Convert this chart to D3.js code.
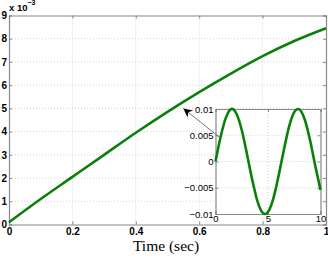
<!DOCTYPE html>
<html lang="en">
<head>
    <meta charset="UTF-8">
    <title>Time response with inset</title>
    <script src="https://cdn.jsdelivr.net/npm/d3@7/dist/d3.min.js"></script>
    <style>
        body { margin: 0; background: #fff; }
        .tick text { font-family: "Liberation Sans", Arial, sans-serif; }
    </style>
</head>
<body>
    <script>
        var w = 328;
        var h = 258;

        // main series (values in units of 1e-3)
        var mainTime = [0, 0.1, 0.2, 0.3, 0.4, 0.5, 0.6, 0.7, 0.8, 0.9, 1.0];
        var mainValue = [0.1, 1.1, 2.05, 3.0, 3.95, 4.85, 5.7, 6.5, 7.25, 7.9, 8.45];
        var mainXTicks = [0, 0.2, 0.4, 0.6, 0.8, 1];
        var mainYTicks = [0, 1, 2, 3, 4, 5, 6, 7, 8, 9];

        // inset series
        var insetTime = [0, 0.5, 1, 1.5, 2, 2.5, 3, 3.5, 4, 4.5, 5, 5.5, 6, 6.5, 7, 7.5, 8, 8.5, 9, 9.5, 10];
        var insetValue = [0, 0.0048, 0.0084, 0.01, 0.0091, 0.006, 0.0014, -0.0035, -0.0076, -0.0098,
                          -0.0096, -0.0071, -0.0028, 0.0021, 0.0066, 0.0094, 0.0099, 0.0080, 0.0041, -0.0008, -0.0054];
        var insetXTicks = [0, 5, 10];
        var insetYTicks = [-0.01, -0.005, 0, 0.005, 0.01];

        var svg = d3.select('body').append('svg')
                    .attr('width', w)
                    .attr('height', h);

        // draws a boxed MATLAB-like axes with dotted grid and inward ticks
        function drawAxes(g, x, y, xt, yt, xFmt, yFmt, opts) {
            var x0 = x.range()[0], x1 = x.range()[1];
            var y0 = y.range()[0], y1 = y.range()[1];

            g.append('rect')
                .attr('x', x0).attr('y', y1)
                .attr('width', x1 - x0).attr('height', y0 - y1)
                .attr('fill', '#fff');

            // grid
            g.selectAll('.vgrid').data(xt.slice(1, -1)).enter().append('line')
                .attr('x1', function(d) { return x(d); })
                .attr('x2', function(d) { return x(d); })
                .attr('y1', y0).attr('y2', y1)
                .attr('stroke', '#c8c8c8').attr('stroke-width', 0.8)
                .attr('stroke-dasharray', '1,2');
            g.selectAll('.hgrid').data(yt.slice(1, -1)).enter().append('line')
                .attr('y1', function(d) { return y(d); })
                .attr('y2', function(d) { return y(d); })
                .attr('x1', x0).attr('x2', x1)
                .attr('stroke', '#c8c8c8').attr('stroke-width', 0.8)
                .attr('stroke-dasharray', '1,2');

            var ax = g.append('g');
            var bottom = d3.axisBottom(x).tickValues(xt).tickSize(-3).tickPadding(opts.xPad).tickFormat(xFmt);
            var left = d3.axisLeft(y).tickValues(yt).tickSize(-3).tickPadding(opts.yPad).tickFormat(yFmt);
            var top = d3.axisTop(x).tickValues(xt).tickSize(-3).tickFormat('');
            var right = d3.axisRight(y).tickValues(yt).tickSize(-3).tickFormat('');

            ax.append('g').attr('transform', 'translate(0,' + y0 + ')').call(bottom);
            ax.append('g').attr('transform', 'translate(' + x0 + ',0)').call(left);
            ax.append('g').attr('transform', 'translate(0,' + y1 + ')').call(top);
            ax.append('g').attr('transform', 'translate(' + x1 + ',0)').call(right);

            ax.selectAll('.domain').attr('stroke', '#888').attr('stroke-width', 1.2);
            ax.selectAll('.tick line').attr('stroke', '#888');
            ax.selectAll('.tick text')
                .attr('fill', '#000')
                .style('font-size', opts.fontSize + 'px')
                .style('font-weight', opts.weight);
        }

        // main axes
        var xScale = d3.scaleLinear().domain([0, 1]).range([9, 326]);
        var yScale = d3.scaleLinear().domain([0, 9]).range([224.5, 15.5]);

        var main = svg.append('g');
        drawAxes(main, xScale, yScale, mainXTicks, mainYTicks,
                 d3.format('~g'), d3.format('d'),
                 { xPad: 3, yPad: 2, fontSize: 10, weight: 'bold' });

        var line = d3.line()
                     .x(function(d, i) { return xScale(mainTime[i]); })
                     .y(function(d) { return yScale(d); })
                     .curve(d3.curveMonotoneX);

        main.append('path')
            .datum(mainValue)
            .attr('d', line)
            .attr('fill', 'none')
            .attr('stroke', '#0a800a')
            .attr('stroke-width', 2.6);

        // exponent label
        var expo = svg.append('text')
            .attr('x', 9).attr('y', 11)
            .attr('font-family', 'Liberation Sans, Arial, sans-serif')
            .attr('font-size', 9.5).attr('font-weight', 'bold');
        expo.append('tspan').text('x 10');
        expo.append('tspan').attr('dy', -6).attr('font-size', 7).text('\u22123');

        // x axis title
        svg.append('text')
            .attr('x', 166).attr('y', 251)
            .attr('text-anchor', 'middle')
            .attr('font-family', 'Liberation Serif, Times New Roman, serif')
            .attr('font-size', 15.5)
            .text('Time (sec)');

        // inset axes
        var ix = d3.scaleLinear().domain([0, 10]).range([215.5, 320.5]);
        var iy = d3.scaleLinear().domain([-0.01, 0.01]).range([214, 109]);

        var inset = svg.append('g');
        drawAxes(inset, ix, iy, insetXTicks, insetYTicks,
                 d3.format('d'), function(d) { return d === 0 ? '0' : d3.format('~g')(d).replace('-', '\u2212'); },
                 { xPad: 1, yPad: 2, fontSize: 9.5, weight: 'normal' });

        var iline = d3.line()
                      .x(function(d, i) { return ix(insetTime[i]); })
                      .y(function(d) { return iy(d); })
                      .curve(d3.curveCardinal);

        inset.append('path')
            .datum(insetValue)
            .attr('d', iline)
            .attr('fill', 'none')
            .attr('stroke', '#0a800a')
            .attr('stroke-width', 2.6);

        // arrow from inset to main curve
        svg.append('defs').append('marker')
            .attr('id', 'head')
            .attr('viewBox', '0 0 10 10')
            .attr('refX', 10).attr('refY', 5)
            .attr('markerWidth', 11).attr('markerHeight', 9)
            .attr('markerUnits', 'userSpaceOnUse')
            .attr('orient', 'auto')
            .append('path')
            .attr('d', 'M0,0 L10,5 L0,10 L3,5 Z')
            .attr('fill', '#000');

        svg.append('line')
            .attr('x1', ix(0.45)).attr('y1', iy(0.0045))
            .attr('x2', xScale(0.55)).attr('y2', yScale(5.0))
            .attr('stroke', '#555').attr('stroke-width', 0.8)
            .attr('marker-end', 'url(#head)');
    </script>
</body>
</html>
